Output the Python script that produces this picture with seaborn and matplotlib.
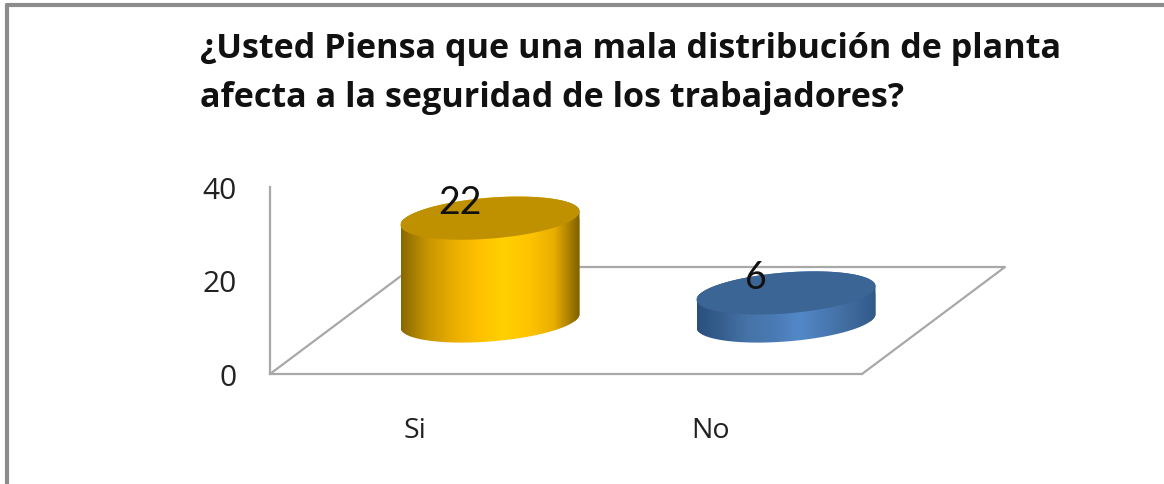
import numpy as np
import pandas as pd
import matplotlib
matplotlib.use("Agg")
import matplotlib.pyplot as plt
from matplotlib.colors import LinearSegmentedColormap
from matplotlib.lines import Line2D
from matplotlib.patches import Polygon
from matplotlib.transforms import ScaledTranslation
import seaborn as sns

categories = ["Si", "No"]
values = [22, 6]
y_ticks = [0, 20, 40]
title_lines = ["¿Usted Piensa que una mala distribución de planta",
               "afecta a la seguridad de los trabajadores?"]
top_colors = ["#bf9000", "#3b6595"]
side_colors = [
    ["#8a6800", "#c49400", "#e8ad00", "#ffc000", "#ffd000", "#ffc400", "#e8ae00", "#7f6000"],
    ["#2a4f7c", "#37608f", "#4674a8", "#4a7ab4", "#5388c8", "#4a7ab4", "#3f6a9c", "#2f5a88"],
]

W, H = 1164, 485
sns.set_theme(style="white")
plt.rcParams["font.family"] = ["Open Sans", "DejaVu Sans"]
fig = plt.figure(figsize=(W / 100, H / 100), dpi=100, facecolor="white")


def px_axes(left, top, right, bottom, **kw):
    return fig.add_axes([left / W, 1 - bottom / H, (right - left) / W, (bottom - top) / H], **kw)


# frame of the chart area (cut by the picture on the right and at the bottom)
frame = dict(color="#8c8c8c", lw=3, transform=fig.transFigure)
fig.add_artist(Line2D([7 / W, 7 / W], [0, 1 - 6 / H], **frame))
fig.add_artist(Line2D([7 / W, 1], [1 - 6 / H, 1 - 6 / H], **frame))

fig.text(200 / W, 1 - 58 / H, title_lines[0], weight="bold",
         fontsize=24.55, color="#111111", ha="left", va="baseline")
fig.text(200 / W, 1 - 107 / H, title_lines[1], weight="bold",
         fontsize=24.55, color="#111111", ha="left", va="baseline")

# front plane: value axis and category axis
AX_L, AX_R, AX_T, AX_B = 270, 862, 188, 375
ax = px_axes(AX_L, AX_T, AX_R, AX_B)
ax.set_xlim(-0.5, 1.5)
ax.set_ylim(0, 40)
ax.set_yticks(y_ticks)
ax.set_xticks(range(len(categories)), categories)
ax.tick_params(axis="y", length=0, pad=24, labelsize=21.5, labelcolor="#222222")
ax.tick_params(axis="x", length=0, pad=30, labelsize=20.5, labelcolor="#222222")
for lab in ax.get_xticklabels():
    lab.set_transform(lab.get_transform() + ScaledTranslation(-3 / 100, 0, fig.dpi_scale_trans))
for s in ["top", "right"]:
    ax.spines[s].set_visible(False)
for s in ["left", "bottom"]:
    ax.spines[s].set_color("#a8a8a8")
    ax.spines[s].set_linewidth(1.6)
ax.patch.set_alpha(0)

# floor of the 3-D box, drawn in the axes' data units
depth_x = 143 / 296
depth_y = 107 / ((AX_B - AX_T) / 40)
ax.plot([-0.5, -0.5 + depth_x, 1.5 + depth_x, 1.5],
        [0, depth_y, depth_y, 0], color="#a8a8a8", lw=1.6, clip_on=False, zorder=1)

# cylinders sit half-way into the depth of the box
shift_x, shift_y = 72, 53
PX_PER_UNIT = (AX_B - AX_T) / 40
below = 10
bx = px_axes(AX_L + shift_x, AX_T - shift_y, AX_R + shift_x,
             AX_B - shift_y + below * PX_PER_UNIT)
bx.patch.set_alpha(0)
df = pd.DataFrame({"categoria": categories, "valor": values})
sns.barplot(data=df, x="categoria", y="valor", hue="categoria", palette=top_colors,
            width=179 / 296, legend=False, ax=bx)
bx.set_xlim(-0.5, 1.5)
bx.set_ylim(-below, 40)
bx.set_axis_off()

b_semi = 20.5 / PX_PER_UNIT
shear = 6.8 / PX_PER_UNIT
for bar, colors, top_col, val in zip(bx.patches, side_colors, top_colors, values):
    cx = bar.get_x() + bar.get_width() / 2
    a = bar.get_width() / 2
    h = bar.get_height()
    t_low = np.linspace(np.pi, 2 * np.pi, 80)
    t_up = np.linspace(0, np.pi, 80)
    low = np.c_[cx + a * np.cos(t_low), b_semi * np.sin(t_low) + shear * np.cos(t_low)]
    up = np.c_[cx + a * np.cos(t_up), h + b_semi * np.sin(t_up) + shear * np.cos(t_up)]
    body = Polygon(np.r_[low, up], closed=True, fc="none", ec="none", transform=bx.transData)
    bx.add_patch(body)
    bar.set_clip_path(body)
    cmap = LinearSegmentedColormap.from_list("side", colors)
    im = bx.imshow(np.linspace(0, 1, 256)[None, :], cmap=cmap, aspect="auto",
                   extent=(cx - a, cx + a, -below, 40), zorder=3)
    im.set_clip_path(body)
    t_all = np.linspace(0, 2 * np.pi, 160)
    cap = np.c_[cx + a * np.cos(t_all), h + b_semi * np.sin(t_all) + shear * np.cos(t_all)]
    bx.add_patch(Polygon(cap, closed=True, fc=top_col, ec="none", zorder=4))
    bx.annotate(str(val), xy=(cx, h), xytext=(-30 * 0.72, 16 * 0.72), textcoords="offset points",
                family="Lato", ha="center", va="center", fontsize=27, color="#111111", zorder=5)
bx.set_xlim(-0.5, 1.5)
bx.set_ylim(-below, 40)

fig.savefig("out.png", dpi=100, facecolor="white")
